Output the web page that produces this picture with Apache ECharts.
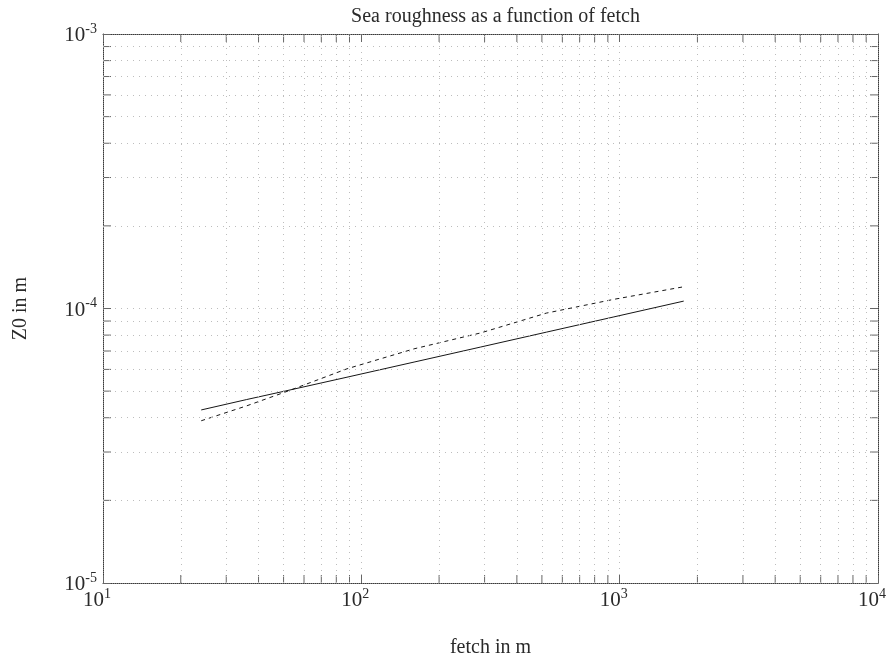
<!DOCTYPE html>
<html>
<head>
<meta charset="utf-8">
<script src="https://cdn.jsdelivr.net/npm/echarts@6/dist/echarts.min.js"></script>
<style>
  html, body { margin: 0; padding: 0; background: #fff; }
  #chart { width: 890px; height: 663px; }
</style>
</head>
<body>
<div id="chart"></div>
<script>
// Fetch (m) sample points shared by both curves
const fetchM = [24, 36, 51, 88, 160, 290, 520, 950, 1770];
// Roughness length Z0 (m), solid curve
const z0Solid = [4.27e-5, 4.66e-5, 5.01e-5, 5.62e-5, 6.38e-5, 7.24e-5, 8.20e-5, 9.32e-5, 1.064e-4];
// Roughness length Z0 (m), dashed curve
const z0Dashed = [3.90e-5, 4.42e-5, 4.97e-5, 6.03e-5, 7.13e-5, 8.15e-5, 9.62e-5, 1.08e-4, 1.20e-4];

// Axis ranges (one decade per major tick)
const xRange = [10, 10000];
const yRange = [1e-5, 1e-3];
// Minor grid / tick positions (2..9 within each decade)
const xMinor = [20, 30, 40, 50, 60, 70, 80, 90, 200, 300, 400, 500, 600, 700, 800, 900,
                2000, 3000, 4000, 5000, 6000, 7000, 8000, 9000];
const yMinor = [2e-5, 3e-5, 4e-5, 5e-5, 6e-5, 7e-5, 8e-5, 9e-5,
                2e-4, 3e-4, 4e-4, 5e-4, 6e-4, 7e-4, 8e-4, 9e-4];

const titleText = 'Sea roughness as a function of fetch';
const xName = 'fetch in m';
const yName = 'Z0 in m';

const FONT = '"Liberation Serif", "DejaVu Serif", serif';
const INK = '#2a2a2a';
const gridColor = '#bdbdbd';
const tickColor = '#666';
const TICK_LEN = 8;

const GRID = { left: 103, right: 12, top: 34, bottom: 78 };

const powLabel = v => '{b|10}{s|' + Math.round(Math.log10(v)) + '}';
const labelRich = {
  b: { fontFamily: FONT, fontSize: 21, color: INK, lineHeight: 24, verticalAlign: 'bottom' },
  s: { fontFamily: FONT, fontSize: 14, color: INK, lineHeight: 14, verticalAlign: 'top' }
};
const borderLine = { show: true, lineStyle: { color: '#3a3a3a', width: 1, type: [1, 1] } };
const gridStyle = { color: gridColor, width: 1, type: [1, 5] };
const majorTick = { show: true, inside: true, length: TICK_LEN, lineStyle: { color: tickColor } };

// short inward tick marks on both opposite borders for a minor value
function minorTickItem(isX) {
  return function (params, api) {
    const cs = params.coordSys;
    const children = [];
    const style = { stroke: tickColor, lineWidth: 1 };
    if (isX) {
      const px = api.coord([api.value(0), yRange[0]])[0];
      children.push({ type: 'line', shape: { x1: px, y1: cs.y + cs.height, x2: px, y2: cs.y + cs.height - TICK_LEN }, style });
      children.push({ type: 'line', shape: { x1: px, y1: cs.y, x2: px, y2: cs.y + TICK_LEN }, style });
    } else {
      const py = api.coord([xRange[0], api.value(1)])[1];
      children.push({ type: 'line', shape: { x1: cs.x, y1: py, x2: cs.x + TICK_LEN, y2: py }, style });
      children.push({ type: 'line', shape: { x1: cs.x + cs.width, y1: py, x2: cs.x + cs.width - TICK_LEN, y2: py }, style });
    }
    return { type: 'group', children };
  };
}

const minorGridLines = xMinor.map(v => [{ coord: [v, yRange[0]] }, { coord: [v, yRange[1]] }])
  .concat(yMinor.map(v => [{ coord: [xRange[0], v] }, { coord: [xRange[1], v] }]));

const chart = echarts.init(document.getElementById('chart'), null, { renderer: 'canvas' });

chart.setOption({
  backgroundColor: '#fff',
  animation: false,
  title: {
    text: titleText,
    left: GRID.left + (890 - GRID.left - GRID.right) / 2,
    textAlign: 'center',
    top: 2,
    textStyle: { fontFamily: FONT, fontSize: 20, fontWeight: 'normal', color: INK }
  },
  grid: { left: GRID.left, right: GRID.right, top: GRID.top, bottom: GRID.bottom, containLabel: false },
  xAxis: [
    {
      type: 'log', logBase: 10, min: xRange[0], max: xRange[1],
      position: 'bottom',
      name: xName, nameLocation: 'middle', nameGap: 55,
      nameTextStyle: { fontFamily: FONT, fontSize: 20, color: INK },
      axisLine: borderLine,
      axisTick: majorTick,
      axisLabel: { formatter: powLabel, rich: labelRich, margin: 4, padding: [0, 12, 0, 0] },
      splitLine: { show: true, lineStyle: gridStyle }
    },
    {
      type: 'log', logBase: 10, min: xRange[0], max: xRange[1],
      position: 'top',
      axisLine: borderLine,
      axisTick: majorTick,
      axisLabel: { show: false },
      splitLine: { show: false }
    }
  ],
  yAxis: [
    {
      type: 'log', logBase: 10, min: yRange[0], max: yRange[1],
      position: 'left',
      name: yName, nameLocation: 'middle', nameGap: 72, nameRotate: 90,
      nameTextStyle: { fontFamily: FONT, fontSize: 20, color: INK },
      axisLine: borderLine,
      axisTick: majorTick,
      axisLabel: { formatter: powLabel, rich: labelRich, margin: 6 },
      splitLine: { show: true, lineStyle: gridStyle }
    },
    {
      type: 'log', logBase: 10, min: yRange[0], max: yRange[1],
      position: 'right',
      axisLine: borderLine,
      axisTick: majorTick,
      axisLabel: { show: false },
      splitLine: { show: false }
    }
  ],
  series: [
    {
      // dotted minor grid at 2..9 of each decade
      type: 'line',
      data: [],
      silent: true,
      markLine: {
        silent: true,
        symbol: 'none',
        label: { show: false },
        lineStyle: gridStyle,
        data: minorGridLines
      }
    },
    {
      type: 'custom',
      silent: true,
      clip: false,
      renderItem: minorTickItem(true),
      data: xMinor.map(v => [v, yRange[0]])
    },
    {
      type: 'custom',
      silent: true,
      clip: false,
      renderItem: minorTickItem(false),
      data: yMinor.map(v => [xRange[0], v])
    },
    {
      type: 'line',
      data: fetchM.map((f, i) => [f, z0Solid[i]]),
      showSymbol: false,
      lineStyle: { color: '#161616', width: 1, type: 'solid' }
    },
    {
      type: 'line',
      data: fetchM.map((f, i) => [f, z0Dashed[i]]),
      showSymbol: false,
      lineStyle: { color: '#161616', width: 1, type: [4, 4] }
    }
  ]
});
</script>
</body>
</html>
